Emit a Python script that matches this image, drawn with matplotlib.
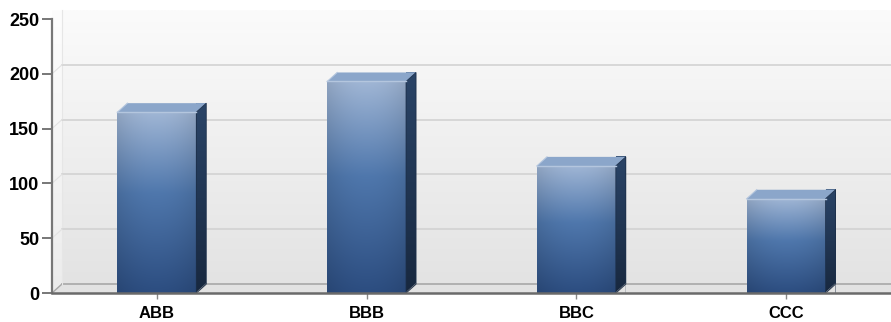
import matplotlib
matplotlib.use('Agg')
import matplotlib.pyplot as plt
import numpy as np
from matplotlib.colors import to_rgb
from matplotlib.patches import Polygon

categories = ['ABB', 'BBB', 'BBC', 'CCC']
values = [165, 193, 116, 86]
y_ticks = [0, 50, 100, 150, 200, 250]

W, H = 891, 322
fig = plt.figure(figsize=(W / 100, H / 100), dpi=100)
fig.patch.set_facecolor('white')
ax = fig.add_axes([52 / W, (H - 293) / H, (W - 52) / W, (293 - 19) / H])
ax.set_xlim(0, len(categories))
ax.set_ylim(0, 250)
ax.set_facecolor('none')

# depth of the pseudo 3D walls, in data units
px_x = len(categories) / (W - 52)
px_y = 250 / (293 - 19)
dx, dy = 10 * px_x, 9 * px_y
xmax = len(categories) + 0.1


def vgrad(stops, n=256):
    # stops: list of (position, colour), position 0 = top, 1 = bottom
    t = np.linspace(0, 1, n)
    pos = [p for p, _ in stops]
    cols = np.array([to_rgb(c) for _, c in stops])
    rgb = np.stack([np.interp(t, pos, cols[:, k]) for k in range(3)], axis=1)
    return rgb[:, None, :].repeat(2, axis=1)


# back wall
ax.imshow(vgrad([(0, '#fbfbfb'), (1, '#e3e3e3')]), extent=[dx, xmax, dy, 250 + dy],
          aspect='auto', zorder=0, clip_on=False, interpolation='bilinear')
# left wall
ax.imshow(vgrad([(0, '#fdfdfd'), (1, '#ececec')]), extent=[0, dx, 0, 250 + dy],
          aspect='auto', zorder=0, clip_on=False, interpolation='bilinear')
# floor
ax.add_patch(Polygon([[0, 0], [xmax, 0], [xmax, dy], [dx, dy]], closed=True,
                     facecolor='#e2e2e2', edgecolor='none', zorder=1, clip_on=False))
ax.plot([dx, xmax], [dy, dy], color='#a8a8a8', lw=1.2, zorder=1, clip_on=False)
ax.plot([0, dx], [0, dy], color='#a8a8a8', lw=1.0, zorder=1, clip_on=False)
ax.plot([dx, dx], [dy, 250 + dy], color='#e6e6e6', lw=0.8, zorder=1, clip_on=False)

# grid on back wall
for v in y_ticks[1:-1]:
    ax.plot([dx, xmax], [v + dy, v + dy], color='#d2d2d2', lw=1.2, zorder=1, clip_on=False)
    ax.plot([0, dx], [v, v + dy], color='#e2e2e2', lw=0.8, zorder=1, clip_on=False)

# bars
bw = 0.376
front = vgrad([(0, '#a0b6d5'), (0.45, '#4f77ac'), (1, '#2c4d80')])
shade = 1 - 0.10 * np.abs(np.linspace(-1, 1, 64)) ** 2
front = front[:, :1, :].repeat(64, axis=1) * shade[None, :, None]
side = vgrad([(0, '#2a4467'), (1, '#18283f')])
top_col = '#8ba6ca'
for i, v in enumerate(values):
    x0 = i + 0.5 - bw / 2
    x1 = x0 + bw
    ax.imshow(front, extent=[x0, x1, 0, v], aspect='auto', zorder=3,
              interpolation='bilinear')
    ax.imshow(side, extent=[x1, x1 + dx, 0, v + dy], aspect='auto', zorder=2,
              interpolation='bilinear', clip_on=False)
    # clip away the side image corners
    ax.add_patch(Polygon([[x1, 0], [x1 + dx, dy], [x1 + dx, 0]], closed=True,
                         facecolor='#e2e2e2', edgecolor='none', zorder=2.5))
    ax.plot([x1, x1 + dx], [0, dy], color='#a8a8a8', lw=1.0, zorder=2.5)
    ax.add_patch(Polygon([[x1, v], [x1 + dx, v + dy], [x1, v + dy]], closed=True,
                         facecolor=top_col, edgecolor='none', zorder=2.6, clip_on=False))
    ax.add_patch(Polygon([[x0, v], [x1, v], [x1 + dx, v + dy], [x0 + dx, v + dy]],
                         closed=True, facecolor=top_col, edgecolor='none',
                         zorder=4, clip_on=False))
    ax.plot([x0, x1], [v, v], color='#b4c6de', lw=1.0, zorder=4.1)
    ax.plot([x0, x0 + dx], [v, v + dy], color='#b4c6de', lw=0.8, zorder=4.1, clip_on=False)
    ax.add_patch(Polygon([[x1, 0], [x1, v], [x1 + dx, v + dy], [x1 + dx, dy]],
                         closed=True, facecolor='none', edgecolor='#1c2f4a', lw=0.6,
                         zorder=4, clip_on=False))

ax.set_xlim(0, len(categories))
ax.set_ylim(0, 250)

for s in ['top', 'right']:
    ax.spines[s].set_visible(False)
ax.spines['left'].set_color('#777777')
ax.spines['left'].set_linewidth(1.6)
ax.spines['bottom'].set_color('#6a6a6a')
ax.spines['bottom'].set_linewidth(1.8)
ax.spines['bottom'].set_zorder(5)

ax.set_yticks(y_ticks)
ax.set_yticklabels([str(t) for t in y_ticks], fontfamily='Liberation Sans',
                   fontweight='bold', fontsize=13)
ax.set_xticks(np.arange(len(categories)) + 0.5)
ax.set_xticklabels(categories, fontfamily='Liberation Sans', fontweight='bold',
                   fontsize=12)
ax.tick_params(axis='y', length=7, width=1.4, color='#777777', pad=2)
ax.tick_params(axis='x', length=4, width=1.0, color='#888888', pad=5)

fig.savefig('out.png', dpi=100, facecolor='white')
